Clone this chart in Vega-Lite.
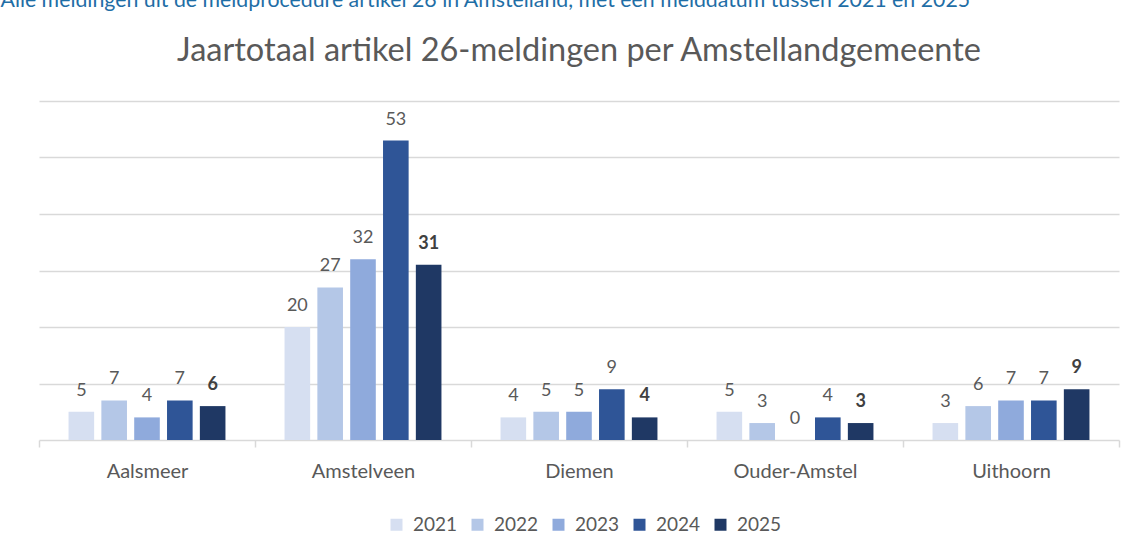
{
  "$schema": "https://vega.github.io/schema/vega-lite/v6.json",
  "autosize": {"type": "none"},
  "width": 1080,
  "height": 339,
  "padding": {"left": 39, "top": 101, "right": 14, "bottom": 108},
  "background": "white",
  "config": {"view": {"stroke": null}, "font": "Lato"},
  "title": {
    "text": "Jaartotaal artikel 26-meldingen per Amstellandgemeente",
    "font": "Lato",
    "fontSize": 32.5,
    "fontWeight": "normal",
    "color": "#595959",
    "anchor": "middle",
    "frame": "group",
    "baseline": "alphabetic",
    "offset": 0,
    "dy": 104
  },
  "data": {
    "values": [
      {"gemeente": "Aalsmeer", "jaar": "2021", "aantal": 5},
      {"gemeente": "Aalsmeer", "jaar": "2022", "aantal": 7},
      {"gemeente": "Aalsmeer", "jaar": "2023", "aantal": 4},
      {"gemeente": "Aalsmeer", "jaar": "2024", "aantal": 7},
      {"gemeente": "Aalsmeer", "jaar": "2025", "aantal": 6},
      {"gemeente": "Amstelveen", "jaar": "2021", "aantal": 20},
      {"gemeente": "Amstelveen", "jaar": "2022", "aantal": 27},
      {"gemeente": "Amstelveen", "jaar": "2023", "aantal": 32},
      {"gemeente": "Amstelveen", "jaar": "2024", "aantal": 53},
      {"gemeente": "Amstelveen", "jaar": "2025", "aantal": 31},
      {"gemeente": "Diemen", "jaar": "2021", "aantal": 4},
      {"gemeente": "Diemen", "jaar": "2022", "aantal": 5},
      {"gemeente": "Diemen", "jaar": "2023", "aantal": 5},
      {"gemeente": "Diemen", "jaar": "2024", "aantal": 9},
      {"gemeente": "Diemen", "jaar": "2025", "aantal": 4},
      {"gemeente": "Ouder-Amstel", "jaar": "2021", "aantal": 5},
      {"gemeente": "Ouder-Amstel", "jaar": "2022", "aantal": 3},
      {"gemeente": "Ouder-Amstel", "jaar": "2023", "aantal": 0},
      {"gemeente": "Ouder-Amstel", "jaar": "2024", "aantal": 4},
      {"gemeente": "Ouder-Amstel", "jaar": "2025", "aantal": 3},
      {"gemeente": "Uithoorn", "jaar": "2021", "aantal": 3},
      {"gemeente": "Uithoorn", "jaar": "2022", "aantal": 6},
      {"gemeente": "Uithoorn", "jaar": "2023", "aantal": 7},
      {"gemeente": "Uithoorn", "jaar": "2024", "aantal": 7},
      {"gemeente": "Uithoorn", "jaar": "2025", "aantal": 9}
    ]
  },
  "encoding": {
    "x": {
      "field": "gemeente",
      "type": "nominal",
      "sort": ["Aalsmeer", "Amstelveen", "Diemen", "Ouder-Amstel", "Uithoorn"],
      "scale": {"paddingInner": 0, "paddingOuter": 0},
      "axis": {
        "title": null,
        "labelAngle": 0,
        "labelFontSize": 20,
        "labelColor": "#595959",
        "labelPadding": 14,
        "domainColor": "#d9d9d9",
        "domainWidth": 1.5,
        "tickColor": "#d9d9d9",
        "tickWidth": 1.5,
        "tickSize": 7,
        "tickBand": "extent",
        "grid": false
      }
    },
    "xOffset": {
      "field": "jaar",
      "type": "nominal",
      "scale": {"paddingInner": 0.22, "paddingOuter": 0.9}
    },
    "y": {
      "field": "aantal",
      "type": "quantitative",
      "scale": {"domain": [0, 60]},
      "axis": {
        "title": "Alle meldingen uit de meldprocedure artikel 26 in Amstelland, met een melddatum tussen 2021 en 2025",
        "titleAngle": 0,
        "titleX": -39,
        "titleY": -95,
        "titleAlign": "left",
        "titleBaseline": "alphabetic",
        "titleFont": "Lato",
        "titleFontSize": 21.3,
        "titleFontWeight": "normal",
        "titleColor": "#1f6ea6",
        "labels": false,
        "ticks": false,
        "domain": false,
        "grid": true,
        "gridColor": "#d9d9d9",
        "gridWidth": 1.5,
        "values": [10, 20, 30, 40, 50, 60]
      }
    }
  },
  "layer": [
    {
      "mark": {"type": "bar"},
      "encoding": {
        "color": {
          "field": "jaar",
          "type": "nominal",
          "scale": {
            "domain": ["2021", "2022", "2023", "2024", "2025"],
            "range": ["#d6dff1", "#b4c7e7", "#8faadc", "#2f5597", "#1f3864"]
          },
          "legend": {
            "title": null,
            "orient": "none",
            "direction": "horizontal",
            "legendX": 348,
            "legendY": 414,
            "padding": 0,
            "symbolType": "square",
            "symbolSize": 144,
            "symbolStrokeWidth": 0,
            "labelFontSize": 19,
            "labelColor": "#595959",
            "labelOffset": 7,
            "columnPadding": 10
          }
        }
      }
    },
    {
      "transform": [{"filter": "datum.jaar != '2025'"}],
      "mark": {"type": "text", "baseline": "alphabetic", "dy": -16, "fontSize": 18, "color": "#595959"},
      "encoding": {"text": {"field": "aantal", "type": "quantitative"}}
    },
    {
      "transform": [{"filter": "datum.jaar == '2025'"}],
      "mark": {"type": "text", "baseline": "alphabetic", "dy": -16, "fontSize": 18, "fontWeight": "bold", "color": "#404040"},
      "encoding": {"text": {"field": "aantal", "type": "quantitative"}}
    }
  ]
}
